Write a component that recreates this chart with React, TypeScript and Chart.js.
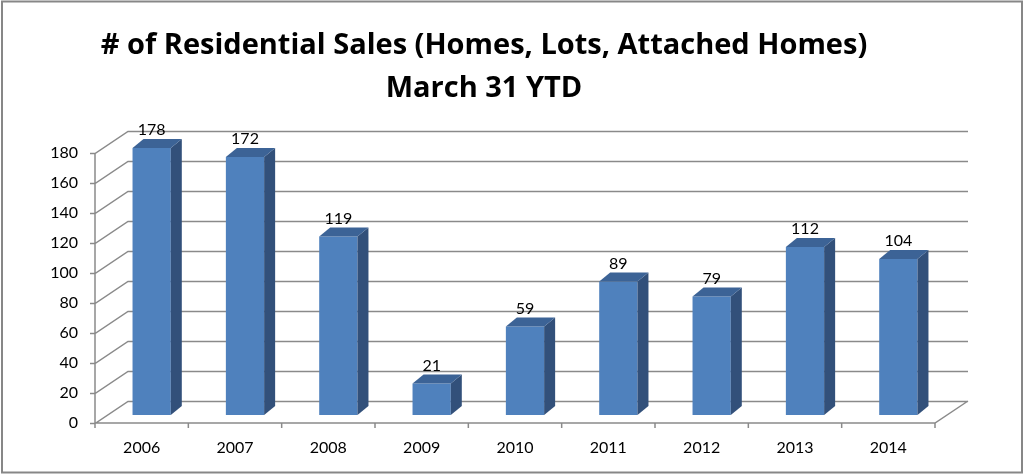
import React, { useEffect, useRef } from "react";
import { Chart, registerables } from "chart.js";

Chart.register(...registerables);

const years = ["2006", "2007", "2008", "2009", "2010", "2011", "2012", "2013", "2014"];
const sales = [178, 172, 119, 21, 59, 89, 79, 112, 104];
const titleLines = ["# of Residential Sales (Homes, Lots, Attached Homes)", "March 31 YTD"];
const yMin = 0;
const yMax = 180;
const yStep = 20;

const FRONT = "#4F81BD";
const TOP = "#3C6396";
const SIDE = "#32507A";
const GRID = "#8A8A8A";
const FONT = "Lato, 'Liberation Sans', sans-serif";
const TITLE_FONT = "'Open Sans', Lato, sans-serif";

// 3D geometry (pixels)
const WALL_DX = 33;
const WALL_DY = 22;
const BAR_SHIFT_X = 10;
const BAR_SHIFT_Y = 8;
const BAR_DX = 11;
const BAR_DY = 9;

const threeD = {
  id: "threeD",
  beforeDraw(chart: any) {
    const { ctx, width, height } = chart;
    ctx.save();
    ctx.fillStyle = "#ffffff";
    ctx.fillRect(0, 0, width, height);
    ctx.strokeStyle = "#878787";
    ctx.lineWidth = 2;
    ctx.strokeRect(2, 1.5, 1020, 471);
    // title
    ctx.fillStyle = "#000";
    ctx.font = `bold 29px ${TITLE_FONT}`;
    ctx.textAlign = "center";
    ctx.textBaseline = "alphabetic";
    ctx.fillText(titleLines[0], 484, 54);
    ctx.fillText(titleLines[1], 484, 97);
    ctx.restore();
  },
  beforeDatasetsDraw(chart: any) {
    const { ctx, chartArea } = chart;
    const y = chart.scales.y;
    const L = chartArea.left;
    const R = chartArea.right;
    const B = chartArea.bottom;
    ctx.save();
    ctx.strokeStyle = GRID;
    ctx.lineWidth = 1.5;
    ctx.beginPath();
    for (let v = yMin; v <= yMax; v += yStep) {
      const py = Math.round(y.getPixelForValue(v)) + 0.5;
      ctx.moveTo(L - 5, py);
      ctx.lineTo(L, py);
      ctx.lineTo(L + WALL_DX, py - WALL_DY);
      ctx.lineTo(R + WALL_DX, py - WALL_DY);
    }
    ctx.moveTo(L, y.getPixelForValue(yMax));
    ctx.lineTo(L, B);
    ctx.moveTo(L, B);
    ctx.lineTo(R, B);
    ctx.lineTo(R + WALL_DX, B - WALL_DY);
    const n = years.length;
    for (let i = 0; i <= n; i++) {
      const px = L + ((R - L) * i) / n;
      ctx.moveTo(px, B);
      ctx.lineTo(px, B + 5);
    }
    ctx.stroke();
    ctx.restore();
    ctx.save();
    ctx.translate(BAR_SHIFT_X, -BAR_SHIFT_Y);
  },
  afterDatasetsDraw(chart: any) {
    const { ctx } = chart;
    const meta = chart.getDatasetMeta(0);
    meta.data.forEach((bar: any, i: number) => {
      const { x, y, base, width } = bar.getProps(["x", "y", "base", "width"], true);
      const l = x - width / 2;
      const r = x + width / 2;
      ctx.fillStyle = SIDE;
      ctx.beginPath();
      ctx.moveTo(r, y);
      ctx.lineTo(r + BAR_DX, y - BAR_DY);
      ctx.lineTo(r + BAR_DX, base - BAR_DY);
      ctx.lineTo(r, base);
      ctx.closePath();
      ctx.fill();
      ctx.fillStyle = TOP;
      ctx.beginPath();
      ctx.moveTo(l, y);
      ctx.lineTo(l + BAR_DX, y - BAR_DY);
      ctx.lineTo(r + BAR_DX, y - BAR_DY);
      ctx.lineTo(r, y);
      ctx.closePath();
      ctx.fill();
      ctx.fillStyle = "#000";
      ctx.font = `16px ${FONT}`;
      ctx.textAlign = "center";
      ctx.textBaseline = "alphabetic";
      ctx.fillText(String(sales[i]), x, y - 13);
    });
    ctx.restore();
  },
};

export default function App() {
  const ref = useRef<HTMLCanvasElement | null>(null);
  useEffect(() => {
    if (!ref.current) return;
    const chart = new Chart(ref.current, {
      type: "bar",
      data: {
        labels: years,
        datasets: [
          {
            data: sales,
            backgroundColor: FRONT,
            borderWidth: 0,
            barPercentage: 0.41,
            categoryPercentage: 1,
          },
        ],
      },
      options: {
        responsive: false,
        animation: false,
        devicePixelRatio: 1,
        layout: { padding: { top: 153, right: 89, left: 0, bottom: 0 } },
        plugins: {
          legend: { display: false },
          title: { display: false },
          tooltip: { enabled: false },
        },
        scales: {
          x: {
            grid: { display: false, drawTicks: false },
            border: { display: false },
            ticks: {
              padding: 15,
              color: "#000",
              font: { family: FONT, size: 16 },
            },
            afterFit: (s: any) => {
              s.height = 52;
            },
          },
          y: {
            min: yMin,
            max: yMax,
            grid: { display: false, drawTicks: false },
            border: { display: false },
            ticks: {
              stepSize: yStep,
              padding: 17,
              color: "#000",
              font: { family: FONT, size: 16 },
            },
            afterFit: (s: any) => {
              s.width = 95;
            },
          },
        },
      },
      plugins: [threeD],
    });
    return () => chart.destroy();
  }, []);
  return (
    <div style={{ position: "fixed", left: 0, top: 0, width: 1024, height: 475, background: "#fff" }}>
      <canvas ref={ref} width={1024} height={475} style={{ display: "block" }} />
    </div>
  );
}
